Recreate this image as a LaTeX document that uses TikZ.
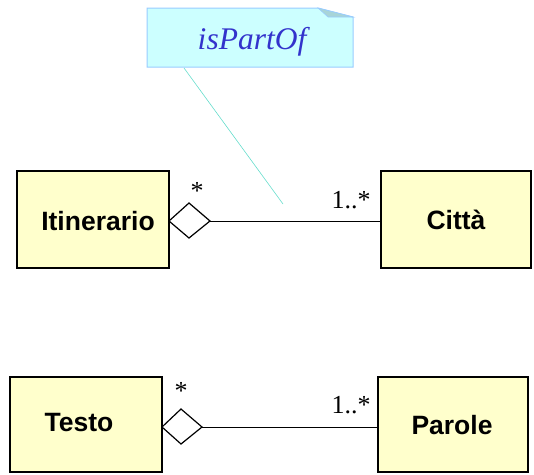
\documentclass[tikz,border=0pt]{standalone}
\usepackage{fontspec}
\setmainfont{Liberation Serif}
\setsansfont{Liberation Sans}
\begin{document}
\begin{tikzpicture}[x=1pt,y=-1pt,
  cls/.style={draw=black,line width=1.6pt,fill=clsfill},
  lbl/.style={inner sep=0pt,font=\sffamily\bfseries\fontsize{26.5}{26.5}\selectfont},
  mult/.style={font=\fontsize{26}{26}\selectfont,inner sep=0pt,anchor=base},
  agg/.style={draw=black,line width=1.2pt,fill=white},
  link/.style={draw=black,line width=1pt}]
\definecolor{clsfill}{HTML}{FFFFCC}
\definecolor{notefill}{HTML}{CCFFFF}
\definecolor{noteborder}{HTML}{99CCFF}
\definecolor{notefold}{HTML}{A8D4D8}
\definecolor{notetext}{HTML}{3333CC}
\definecolor{anchorline}{HTML}{66DDCC}
\useasboundingbox (0,0) rectangle (534,474);
% note
\path[fill=notefill,draw=noteborder,line width=1pt] (147,8) -- (318,8) -- (353,17) -- (353,67) -- (147,67) -- cycle;
\path[fill=notefold,draw=noteborder,line width=0.6pt] (318,8) -- (328,17) -- (353,17) -- cycle;
\node[font=\itshape\fontsize{31.5}{31.5}\selectfont,text=notetext,inner sep=0pt] (note) at (252,42) {isPartOf};
\coordinate (noteanchor) at (184,68);
\coordinate (assocmid) at (283,204);
\draw[anchorline,line width=0.6pt] (noteanchor) -- (assocmid);
% top pair
\path[cls] (17,171) rectangle (169,268);
\node[lbl] (itin) at (98,221) {Itinerario};
\coordinate (itinR) at (169,221);
\path[cls] (381,171) rectangle (531,268);
\node[lbl] (citta) at (456,220) {Città};
\coordinate (cittaL) at (381,221);
\coordinate (d1) at (210,221);
\draw[agg] (itinR) -- (189,203) -- (d1) -- (189,238) -- cycle;
\draw[link] (d1) -- (cittaL);
\node[mult] (s1) at (197,199) {*};
\node[mult] (m1) at (351,208) {1..*};
% bottom pair
\path[cls] (10,377) rectangle (162,472);
\node[lbl] (testo) at (79,423) {Testo};
\coordinate (testoR) at (162,427);
\path[cls] (378,377) rectangle (528,472);
\node[lbl] (parole) at (452,425) {Parole};
\coordinate (paroleL) at (378,427);
\coordinate (d2) at (202,427);
\draw[agg] (testoR) -- (181,409) -- (d2) -- (181,444) -- cycle;
\draw[link] (d2) -- (paroleL);
\node[mult] (s2) at (181,399) {*};
\node[mult] (m2) at (351,413) {1..*};
\end{tikzpicture}
\end{document}
